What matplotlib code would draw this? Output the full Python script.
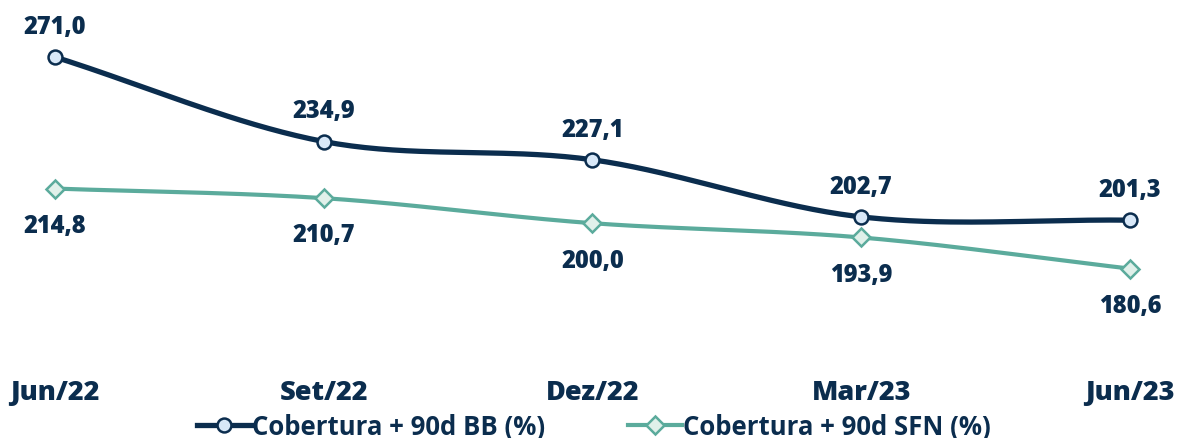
import numpy as np
import matplotlib.pyplot as plt
from matplotlib.lines import Line2D

plt.rcParams['font.family'] = ['Open Sans', 'DejaVu Sans']

periods = ["Jun/22", "Set/22", "Dez/22", "Mar/23", "Jun/23"]
bb = [271.0, 234.9, 227.1, 202.7, 201.3]
sfn = [214.8, 210.7, 200.0, 193.9, 180.6]
series_names = ["Cobertura + 90d BB (%)", "Cobertura + 90d SFN (%)"]

navy = "#0b2d4e"
teal = "#5bab9c"


def smooth(xs, ys, n=40):
    # catmull-rom path through the points, only for drawing
    xs = np.asarray(xs, float)
    ys = np.asarray(ys, float)
    px = np.concatenate([[2 * xs[0] - xs[1]], xs, [2 * xs[-1] - xs[-2]]])
    py = np.concatenate([[2 * ys[0] - ys[1]], ys, [2 * ys[-1] - ys[-2]]])
    outx, outy = [], []
    t = np.linspace(0, 1, n)
    for i in range(1, len(px) - 2):
        for p, out in ((px, outx), (py, outy)):
            p0, p1, p2, p3 = p[i - 1], p[i], p[i + 1], p[i + 2]
            out.extend(0.5 * ((2 * p1) + (-p0 + p2) * t
                              + (2 * p0 - 5 * p1 + 4 * p2 - p3) * t ** 2
                              + (-p0 + 3 * p1 - 3 * p2 + p3) * t ** 3))
    return np.array(outx), np.array(outy)


fig = plt.figure(figsize=(11.81, 4.39), dpi=100)
ax = fig.add_axes([0, 69 / 439, 1, 370 / 439])
x = np.arange(len(periods))

sx, sy = smooth(x, bb)
ax.plot(sx, sy, color=navy, lw=3.8, solid_capstyle='round', zorder=3)
ax.plot(x, bb, ls='none', marker='o', ms=10, mfc="#d8e8f8", mec=navy, mew=1.8, zorder=4)
sx, sy = smooth(x, sfn)
ax.plot(sx, sy, color=teal, lw=3.0, solid_capstyle='round', zorder=2)
ax.plot(x, sfn, ls='none', marker='D', ms=9, mfc="#e0f0ea", mec=teal, mew=1.8, zorder=4)

lbl = dict(ha='center', va='center', fontsize=17, fontweight=800, color=navy, textcoords='offset points')
for xi, v in zip(x, bb):
    ax.annotate(f"{v:.1f}".replace(".", ","), (xi, v), xytext=(0, 22), **lbl)
for xi, v in zip(x, sfn):
    ax.annotate(f"{v:.1f}".replace(".", ","), (xi, v), xytext=(0, -26.5), **lbl)

ax.set_xlim(-0.2047, 4.19)
ax.set_ylim(137.7, 295.8)
ax.set_xticks(x)
ax.set_xticklabels(periods, fontsize=19.5, fontweight=800, color=navy)
ax.tick_params(axis='x', length=0, pad=7)
ax.set_yticks([])
for s in ax.spines.values():
    s.set_visible(False)

handles = [
    Line2D([], [], color=navy, lw=3.8, marker='o', ms=10, mfc="#d8e8f8", mec=navy, mew=1.8),
    Line2D([], [], color=teal, lw=3.0, marker='D', ms=9, mfc="#e0f0ea", mec=teal, mew=1.8),
]
fig.legend(handles, series_names, loc='lower center', bbox_to_anchor=(0.503, -0.058), ncol=2,
           frameon=False, handlelength=2.1, handletextpad=0.05, columnspacing=3.2,
           prop={'size': 18.5, 'weight': 'bold'}, labelcolor=navy)

fig.savefig("out.png", dpi=100)
